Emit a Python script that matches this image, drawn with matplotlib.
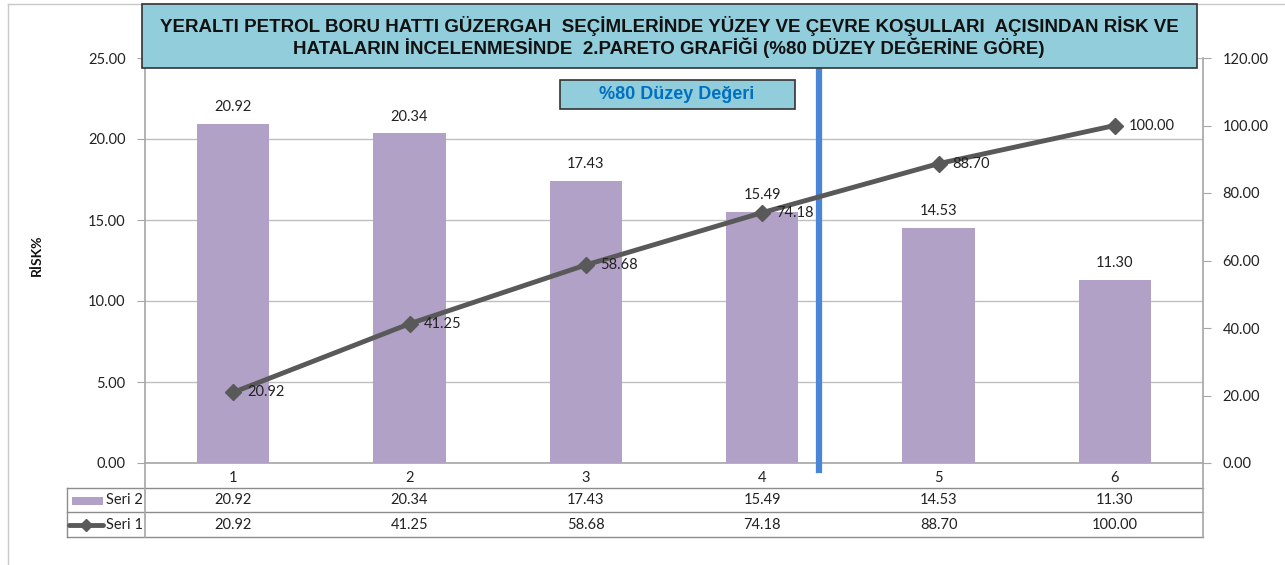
import matplotlib
matplotlib.use("Agg")
import matplotlib.pyplot as plt
from matplotlib.patches import Rectangle
from matplotlib.lines import Line2D
import matplotlib.transforms as mtransforms

# data
kategoriler = ["1", "2", "3", "4", "5", "6"]
seri2 = [20.92, 20.34, 17.43, 15.49, 14.53, 11.30]   # risk % (bars)
seri1 = [20.92, 41.25, 58.68, 74.18, 88.70, 100.00]  # cumulative (line)
sol_ticks = [0, 5, 10, 15, 20, 25]
sag_ticks = [0, 20, 40, 60, 80, 100, 120]

baslik = ("YERALTI PETROL BORU HATTI GÜZERGAH  SEÇİMLERİNDE YÜZEY VE ÇEVRE KOŞULLARI  AÇISINDAN RİSK VE\n"
          "HATALARIN İNCELENMESİNDE  2.PARETO GRAFİĞİ (%80 DÜZEY DEĞERİNE GÖRE)")

plt.rcParams["font.family"] = ["Lato", "DejaVu Sans"]

W, H = 1285, 565
fig = plt.figure(figsize=(W / 100, H / 100), dpi=100)
fig.patch.set_facecolor("white")

def fx(px):
    return px / W

def fy(py):
    return 1 - py / H

ax = fig.add_axes([fx(145), fy(463), fx(1203) - fx(145), fy(58) - fy(463)])
ax2 = ax.twinx()

x = list(range(len(kategoriler)))
ax.bar(x, seri2, width=0.41, color="#B2A1C7", zorder=3)
ax.set_xlim(-0.5, 5.5)
ax.set_ylim(0, 25)
ax.set_yticks(sol_ticks)
ax.set_yticklabels([f"{v:.2f}" for v in sol_ticks], fontsize=10.5, color="#222222")
ax.set_xticks(x)
ax.set_xticklabels(kategoriler, fontsize=10.5, color="#222222")
ax.tick_params(axis="x", length=0, pad=6)
ax.tick_params(axis="y", length=6, color="#A6A6A6", pad=8)
ax.yaxis.grid(True, color="#BFBFBF", linewidth=1)
ax.set_axisbelow(True)
for s in ["top", "right"]:
    ax.spines[s].set_visible(False)
ax.spines["left"].set_color("#A6A6A6")
ax.spines["bottom"].set_color("#A6A6A6")
ax.spines["left"].set_linewidth(1.2)
ax.spines["bottom"].set_linewidth(1.2)

for xi, v in zip(x, seri2):
    ax.annotate(f"{v:.2f}", (xi, v), xytext=(0, 7), textcoords="offset points",
                ha="center", va="bottom", fontsize=10.5, color="#222222", zorder=5)

ax2.plot(x, seri1, color="#595959", linewidth=3.5, marker="D", markersize=8, zorder=4)
ax2.set_ylim(0, 120)
ax2.set_yticks(sag_ticks)
ax2.set_yticklabels([f"{v:.2f}" for v in sag_ticks], fontsize=10.5, color="#222222")
ax2.tick_params(axis="y", length=6, color="#A6A6A6", pad=8)
for s in ["top", "left", "bottom"]:
    ax2.spines[s].set_visible(False)
ax2.spines["right"].set_color("#A6A6A6")
ax2.spines["right"].set_linewidth(1.2)
for xi, v in zip(x, seri1):
    ax2.annotate(f"{v:.2f}", (xi, v), xytext=(10, 0), textcoords="offset points",
                 ha="left", va="center", fontsize=10.5, color="#222222", zorder=5)

fig.text(fx(37), fy(255), "RİSK%", rotation=90, ha="center", va="center",
         fontsize=10, fontweight="bold", color="#111111")

# %80 level line
ax.axvline(3.32, ymin=-0.018, ymax=0.995, color="#4A86D8", linewidth=4.5,
           clip_on=False, zorder=6)

# data table below the plot
tr = mtransforms.blended_transform_factory(ax.transData, fig.transFigure)
gri = "#8C8C8C"
sol_x = fx(67)
fig.add_artist(Line2D([sol_x, fx(1203)], [fy(488), fy(488)], color=gri, lw=1))
fig.add_artist(Line2D([sol_x, fx(1203)], [fy(512), fy(512)], color=gri, lw=1))
fig.add_artist(Line2D([sol_x, fx(1203)], [fy(537), fy(537)], color=gri, lw=1))
fig.add_artist(Line2D([sol_x, sol_x], [fy(488), fy(537)], color=gri, lw=1))
fig.add_artist(Line2D([fx(145), fx(145)], [fy(463), fy(537)], color="#A6A6A6", lw=1.2))
fig.add_artist(Line2D([fx(1203), fx(1203)], [fy(463), fy(537)], color="#A6A6A6", lw=1.2))
for xi, a, b in zip(x, seri2, seri1):
    fig.text(xi, fy(500), f"{a:.2f}", transform=tr, ha="center", va="center", fontsize=10.5, color="#222222")
    fig.text(xi, fy(525), f"{b:.2f}", transform=tr, ha="center", va="center", fontsize=10.5, color="#222222")
fig.add_artist(Rectangle((fx(72), fy(505)), fx(103) - fx(72), fy(497) - fy(505),
                         facecolor="#B2A1C7", edgecolor="none"))
fig.add_artist(Line2D([fx(69), fx(103)], [fy(525), fy(525)], color="#595959", lw=3.5,
                      solid_capstyle="round"))
fig.add_artist(Line2D([fx(86)], [fy(525)], color="#595959", marker="D", markersize=6))
fig.text(fx(106), fy(500), "Seri 2", ha="left", va="center", fontsize=10.5, color="#222222")
fig.text(fx(106), fy(525), "Seri 1", ha="left", va="center", fontsize=10.5, color="#222222")

# chart border (left / top)
fig.add_artist(Line2D([fx(8), fx(8)], [fy(4), 0], color="#C8C8C8", lw=1))
fig.add_artist(Line2D([fx(8), 1], [fy(4), fy(4)], color="#C8C8C8", lw=1))

# title box
fig.add_artist(Rectangle((fx(142), fy(68)), fx(1197) - fx(142), fy(4) - fy(68),
                         facecolor="#92CDDC", edgecolor="#333333", lw=1.2, zorder=10))
fig.text(fx(669), fy(37), baslik, ha="center", va="center", fontsize=13.5,
         fontweight="bold", family=["Liberation Sans", "DejaVu Sans"],
         color="#111111", linespacing=1.15, zorder=11)

# %80 box
fig.add_artist(Rectangle((fx(560), fy(109)), fx(795) - fx(560), fy(80) - fy(109),
                         facecolor="#92CDDC", edgecolor="#333333", lw=1.2, zorder=10))
fig.text(fx(677), fy(94.5), "%80 Düzey Değeri", ha="center", va="center", fontsize=13,
         fontweight="bold", family=["Liberation Sans", "DejaVu Sans"],
         color="#0070C0", zorder=11)

fig.savefig("out.png", dpi=100)
